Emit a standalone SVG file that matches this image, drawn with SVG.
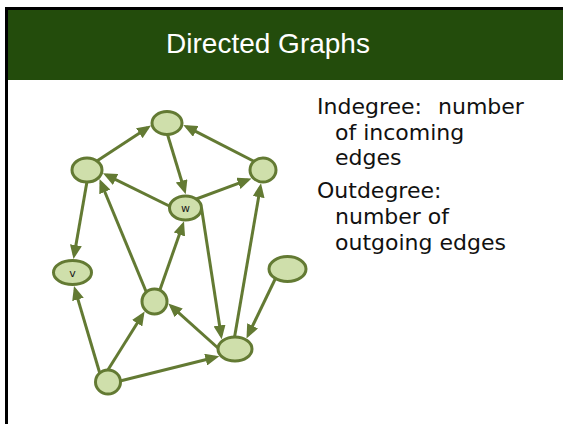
<svg xmlns="http://www.w3.org/2000/svg" width="563" height="424" viewBox="0 0 563 424">
  <style>
    .edge { fill: none; stroke: #637a33; stroke-width: 3; marker-end: url(#arrow); }
    .node { fill: #cfdfab; stroke: #637a33; stroke-width: 3; }
    .nlabel { font-family: "DejaVu Sans", sans-serif; font-size: 11px; fill: #1a1a1a; text-anchor: middle; }
    .body { font-family: "DejaVu Sans", Verdana, sans-serif; font-size: 22px; fill: #111; }
    .title { font-family: "Liberation Sans", Arial, sans-serif; font-size: 28px; fill: #ffffff; text-anchor: middle; }
  </style>
  <defs>
    <marker id="arrow" markerUnits="userSpaceOnUse" markerWidth="14" markerHeight="12" refX="10" refY="6" orient="auto">
      <path d="M0,0 L14,6 L0,12 z" fill="#637a33"/>
    </marker>
  </defs>

  <!-- page -->
  <rect x="0" y="0" width="563" height="424" fill="#ffffff"/>
  <rect x="5" y="10" width="558" height="70" fill="#234c0c"/>
  <rect x="5" y="7" width="558" height="3" fill="#000000"/>
  <rect x="5" y="7" width="3" height="417" fill="#000000"/>
  <text class="title" x="268" y="53">Directed Graphs</text>

  <!-- description -->
  <g id="description">
    <text class="body" x="317" y="114">Indegree:</text>
    <text class="body" x="438" y="114">number</text>
    <text class="body" x="335" y="139.5">of incoming</text>
    <text class="body" x="335" y="164.5">edges</text>
    <text class="body" x="317" y="198">Outdegree:</text>
    <text class="body" x="335" y="224">number of</text>
    <text class="body" x="335" y="249.5">outgoing edges</text>
  </g>

  <!-- connectors -->
  <g id="edges">
    <path class="edge" d="M87,167.4 L147.65,127.69"/>
    <path class="edge" d="M164,123 L184.54,190.47"/>
    <path class="edge" d="M263,166 L186.86,126.83"/>
    <path class="edge" d="M185.5,214 L106.59,175.07"/>
    <path class="edge" d="M185.5,203 L247.75,179.89"/>
    <path class="edge" d="M89,170 L74.19,255.06"/>
    <path class="edge" d="M150,301 L101.03,182.7"/>
    <path class="edge" d="M156,301 L182.68,225.07"/>
    <path class="edge" d="M201.5,208 L221.09,335.34"/>
    <path class="edge" d="M232.5,349 L260.32,187.24"/>
    <path class="edge" d="M280,269 L248.24,334.9"/>
    <path class="edge" d="M228,357 L171.28,306.17"/>
    <path class="edge" d="M102.4,382 L75.14,289.84"/>
    <path class="edge" d="M101,381 L142.48,314.79"/>
    <path class="edge" d="M108,384 L215.42,357.27"/>
  </g>

  <!-- nodes -->
  <g id="n-top"><ellipse class="node" cx="167" cy="123" rx="15" ry="11.5"/></g>
  <g id="n-left"><ellipse class="node" cx="87" cy="170" rx="15" ry="12"/></g>
  <g id="n-right"><ellipse class="node" cx="263" cy="170" rx="13" ry="12"/></g>
  <g id="n-w"><ellipse class="node" cx="185.5" cy="208" rx="16" ry="12"/><text class="nlabel" x="185.5" y="212">w</text></g>
  <g id="n-v"><ellipse class="node" cx="72.5" cy="272.5" rx="19" ry="12"/><text class="nlabel" x="72.5" y="276.5">v</text></g>
  <g id="n-mid"><ellipse class="node" cx="154.5" cy="301.5" rx="12.5" ry="12.5"/></g>
  <g id="n-far"><ellipse class="node" cx="287.5" cy="269" rx="18.5" ry="12.5"/></g>
  <g id="n-sink"><ellipse class="node" cx="235" cy="349" rx="17" ry="12"/></g>
  <g id="n-bottom"><ellipse class="node" cx="108" cy="382" rx="12.5" ry="12"/></g>
</svg>
